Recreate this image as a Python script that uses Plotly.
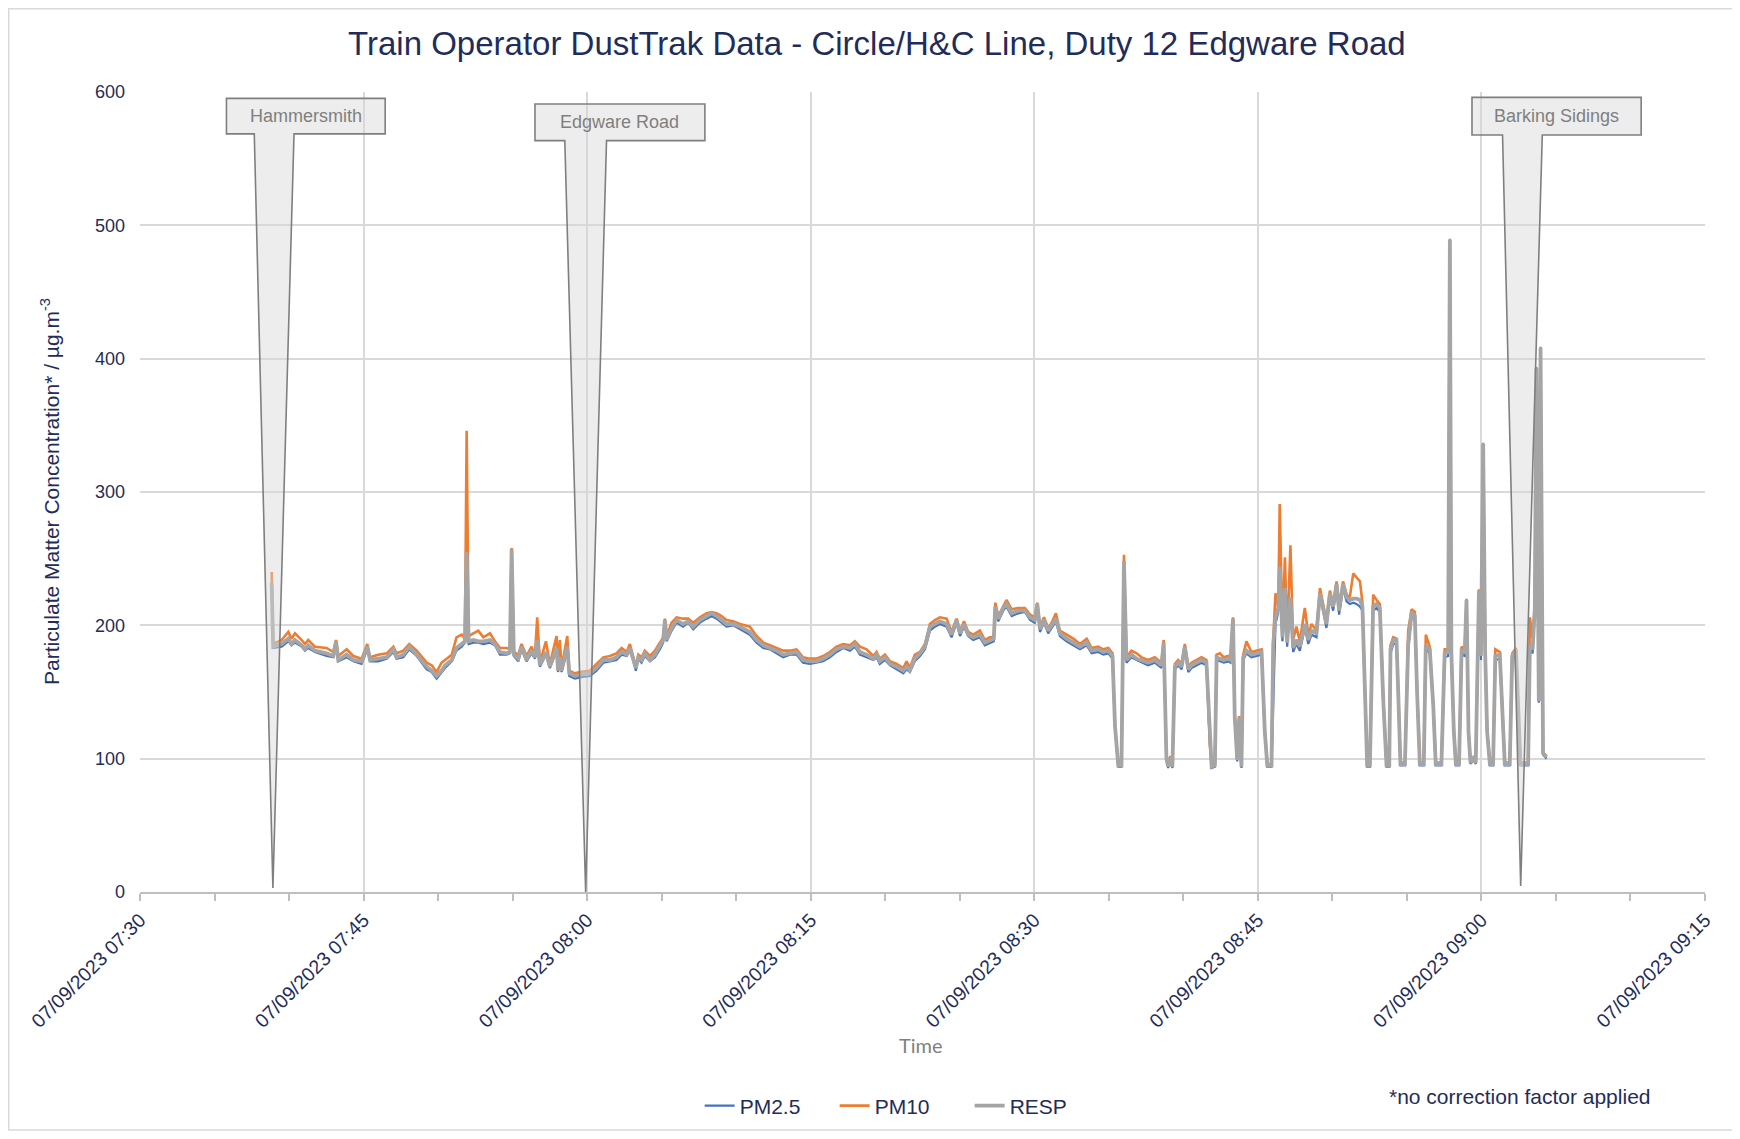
import plotly.graph_objects as go
import pandas as pd

DATE = "2023-09-07"

times = [
    "07:38:50", "07:38:56", "07:39:30", "07:39:57", "07:40:10", "07:40:24", "07:40:51", "07:41:04", "07:41:17", "07:41:44",
    "07:42:31", "07:42:58", "07:43:09", "07:43:18", "07:43:52", "07:44:19", "07:44:52", "07:45:15", "07:45:26", "07:45:59",
    "07:46:33", "07:47:00", "07:47:13", "07:47:40", "07:48:04", "07:48:34", "07:49:14", "07:49:34", "07:49:54", "07:50:14",
    "07:50:28", "07:50:55", "07:51:14", "07:51:35", "07:51:48", "07:51:55", "07:52:03", "07:52:22", "07:52:42", "07:53:02",
    "07:53:29", "07:53:49", "07:54:09", "07:54:36", "07:54:49", "07:54:56", "07:55:05", "07:55:23", "07:55:36", "07:55:56",
    "07:56:16", "07:56:30", "07:56:39", "07:56:50", "07:57:14", "07:57:30", "07:57:57", "07:58:03", "07:58:10", "07:58:17",
    "07:58:40", "07:58:48", "07:59:11", "07:59:31", "08:00:11",
    "08:00:38", "08:01:05", "08:01:32", "08:01:58", "08:02:19", "08:02:39", "08:02:52", "08:03:05", "08:03:16", "08:03:26",
    "08:03:39", "08:03:52", "08:04:13", "08:04:33", "08:04:53", "08:05:06", "08:05:13", "08:05:20", "08:05:40", "08:06:00",
    "08:06:26", "08:06:47", "08:07:07", "08:07:34", "08:08:01", "08:08:21", "08:08:41", "08:09:01", "08:09:21", "08:09:48",
    "08:10:15", "08:10:55", "08:11:22", "08:11:49", "08:12:16", "08:12:43", "08:13:09", "08:13:36", "08:14:03", "08:14:29",
    "08:14:56", "08:15:23", "08:15:50", "08:16:17", "08:16:44", "08:17:11", "08:17:38",
    "08:17:58", "08:18:18", "08:18:45", "08:19:12", "08:19:25", "08:19:38", "08:19:59", "08:20:19", "08:20:46", "08:21:13",
    "08:21:26", "08:21:39", "08:21:59", "08:22:20", "08:22:40", "08:23:00", "08:23:20", "08:23:40", "08:24:07", "08:24:27",
    "08:24:47", "08:25:01", "08:25:17", "08:25:34", "08:25:54", "08:26:21", "08:26:41", "08:27:01", "08:27:17", "08:27:23",
    "08:27:35", "08:27:55", "08:28:08", "08:28:29", "08:28:55", "08:29:22", "08:29:43", "08:30:02", "08:30:12", "08:30:23",
    "08:30:39", "08:30:56", "08:31:10", "08:31:27", "08:31:43", "08:32:10", "08:32:37", "08:33:04", "08:33:31", "08:33:51",
    "08:34:17", "08:34:38", "08:34:58", "08:35:15",
    "08:35:25", "08:35:38", "08:35:51", "08:36:01", "08:36:11", "08:36:31", "08:36:52", "08:37:12", "08:37:38", "08:38:05",
    "08:38:32", "08:38:41", "08:38:52", "08:38:59", "08:39:08", "08:39:16", "08:39:26", "08:39:39", "08:39:53", "08:40:06",
    "08:40:20", "08:40:33", "08:40:53", "08:41:13", "08:41:33", "08:41:47", "08:41:54", "08:42:07", "08:42:14", "08:42:27",
    "08:42:43", "08:43:01", "08:43:10", "08:43:20", "08:43:27", "08:43:37", "08:43:45", "08:43:54", "08:44:01", "08:44:14",
    "08:44:34", "08:44:55", "08:45:15", "08:45:28", "08:45:38", "08:45:55", "08:46:02", "08:46:11", "08:46:22", "08:46:28",
    "08:46:39", "08:46:49", "08:46:58", "08:47:11", "08:47:22", "08:47:35", "08:47:49", "08:48:09", "08:48:23", "08:48:36",
    "08:48:56", "08:49:10", "08:49:23", "08:49:36", "08:49:50", "08:50:03", "08:50:17", "08:50:27", "08:50:43", "08:50:57",
    "08:51:10", "08:51:24", "08:51:37", "08:51:51", "08:52:01", "08:52:11", "08:52:20", "08:52:31", "08:52:44", "08:52:58",
    "08:53:11", "08:53:25", "08:53:38", "08:53:49", "08:53:54", "08:54:05", "08:54:18", "08:54:25", "08:54:34", "08:54:52",
    "08:55:05", "08:55:19", "08:55:32", "08:55:41", "08:55:52", "08:56:08", "08:56:16", "08:56:32", "08:56:46", "08:56:56",
    "08:57:19", "08:57:32", "08:57:46", "08:57:53", "08:57:59", "08:58:09", "08:58:17", "08:58:30", "08:58:40", "08:58:53",
    "08:59:00", "08:59:08", "08:59:16", "08:59:27", "08:59:37", "08:59:50", "08:59:58", "09:00:07", "09:00:15", "09:00:23",
    "09:00:34", "09:00:47", "09:00:56", "09:01:14", "09:01:25", "09:01:34", "09:01:54", "09:02:04", "09:02:19", "09:02:28",
    "09:02:37", "09:03:08", "09:03:15", "09:03:26", "09:03:35", "09:03:41", "09:03:51", "09:03:58", "09:04:08", "09:04:22",
]

resp = [
    232, 184, 186, 190, 186, 189, 185, 182, 185, 181,
    179, 177, 188, 174, 178, 174, 173, 184, 174, 175,
    176, 182, 176, 178, 184, 178, 169, 166, 162, 166,
    170, 174, 183, 186, 188, 255, 188, 189, 188, 188,
    189, 186, 180, 179, 180, 257, 178, 175, 184, 174,
    181, 176, 189, 170, 180, 169, 183, 166, 176, 166,
    184, 164, 162, 163, 164,
    168, 174, 174, 176, 180, 178, 183, 175, 168, 176,
    174, 179, 174, 178, 184, 189, 204, 189, 198, 204,
    201, 203, 199, 204, 207, 209, 207, 204, 201, 201,
    199, 195, 189, 185, 183, 181, 178, 179, 180, 174,
    173, 173, 175, 178, 182, 184, 183,
    186, 180, 178, 175, 178, 173, 176, 171, 169, 166,
    169, 166, 175, 179, 184, 199, 201, 203, 201, 193,
    204, 194, 201, 193, 191, 193, 187, 189, 190, 214,
    205, 213, 216, 209, 211, 211, 206, 204, 216, 197,
    204, 196, 200, 205, 194, 190, 187, 184, 187, 181,
    182, 180, 181, 177,
    124, 95, 95, 248, 174, 178, 175, 174, 172, 174,
    170, 187, 100, 94, 101, 94, 169, 172, 169, 184,
    167, 170, 172, 174, 172, 110, 94, 95, 176, 175,
    174, 175, 174, 205, 131, 99, 131, 94, 176, 181,
    178, 179, 180, 120, 95, 95, 186, 206, 213, 244,
    191, 228, 187, 221, 183, 189, 184, 201, 189, 196,
    194, 224, 214, 201, 224, 214, 231, 211, 231, 221,
    219, 220, 220, 219, 214, 150, 95, 95, 214, 216,
    213, 143, 95, 95, 182, 189, 189, 150, 96, 96,
    185, 210, 207, 150, 96, 96, 185, 182, 140, 96,
    96, 179, 180, 489, 179, 120, 96, 96, 181, 180,
    219, 120, 97, 100, 97, 226, 177, 336, 180, 120,
    96, 96, 177, 178, 130, 96, 96, 177, 181, 130,
    96, 96, 185, 182, 213, 393, 143, 408, 104, 101,
]

pm10 = [
    240, 186, 189, 195, 190, 194, 189, 186, 189, 184,
    183, 180, 189, 177, 182, 177, 175, 186, 176, 178,
    179, 184, 179, 181, 186, 181, 172, 170, 165, 172,
    174, 178, 191, 193, 190, 346, 192, 194, 196, 191,
    194, 188, 183, 183, 182, 258, 180, 178, 186, 177,
    184, 178, 206, 172, 188, 171, 192, 168, 189, 168,
    192, 166, 164, 165, 166,
    171, 176, 177, 179, 183, 180, 186, 177, 169, 178,
    176, 181, 177, 181, 187, 191, 205, 192, 202, 206,
    205, 205, 202, 206, 209, 210, 209, 207, 204, 203,
    201, 199, 192, 187, 185, 183, 181, 181, 182, 176,
    175, 175, 177, 180, 184, 186, 185,
    188, 184, 182, 177, 180, 175, 178, 173, 171, 168,
    173, 168, 178, 180, 186, 201, 204, 206, 205, 195,
    205, 196, 203, 195, 193, 196, 189, 191, 191, 217,
    207, 215, 219, 212, 213, 213, 208, 206, 217, 199,
    206, 198, 202, 209, 196, 193, 190, 186, 190, 183,
    184, 182, 183, 179,
    125, 96, 96, 253, 176, 181, 179, 176, 174, 176,
    172, 189, 101, 95, 102, 95, 171, 174, 171, 186,
    169, 172, 174, 176, 174, 111, 95, 96, 178, 179,
    176, 177, 176, 206, 132, 100, 132, 95, 178, 188,
    180, 181, 182, 121, 96, 96, 190, 224, 214, 291,
    196, 251, 190, 260, 189, 199, 188, 213, 193, 201,
    196, 228, 216, 203, 226, 216, 233, 213, 233, 223,
    221, 239, 236, 233, 217, 151, 96, 96, 223, 219,
    216, 144, 96, 96, 185, 191, 190, 151, 97, 97,
    196, 212, 210, 151, 97, 97, 193, 184, 141, 97,
    97, 182, 182, 490, 181, 121, 97, 97, 184, 182,
    220, 121, 98, 101, 98, 227, 179, 337, 182, 121,
    97, 97, 182, 180, 131, 97, 97, 179, 183, 131,
    97, 97, 206, 190, 215, 394, 144, 409, 105, 102,
]

pm25 = [
    229, 183, 184, 188, 185, 187, 184, 181, 183, 180,
    177, 176, 186, 173, 176, 173, 171, 182, 173, 173,
    175, 180, 175, 176, 182, 177, 167, 165, 160, 165,
    168, 173, 181, 184, 187, 251, 186, 187, 187, 186,
    187, 185, 178, 178, 179, 254, 177, 173, 182, 173,
    179, 175, 187, 169, 178, 168, 181, 165, 174, 165,
    182, 162, 160, 161, 162,
    166, 172, 173, 174, 178, 177, 181, 174, 166, 175,
    172, 177, 173, 176, 182, 187, 202, 188, 196, 202,
    199, 202, 197, 202, 205, 207, 205, 202, 199, 200,
    197, 193, 187, 183, 182, 179, 176, 178, 178, 172,
    171, 172, 173, 176, 180, 183, 181,
    184, 178, 176, 174, 176, 171, 174, 170, 167, 164,
    167, 165, 173, 177, 182, 196, 199, 201, 199, 191,
    202, 192, 199, 192, 189, 191, 185, 187, 188, 211,
    203, 211, 214, 207, 209, 210, 204, 202, 214, 195,
    202, 194, 198, 203, 192, 188, 185, 182, 185, 179,
    180, 178, 179, 175,
    123, 94, 94, 245, 172, 176, 174, 172, 170, 172,
    168, 185, 99, 93, 100, 93, 167, 170, 167, 182,
    165, 168, 170, 172, 170, 109, 93, 94, 174, 173,
    172, 173, 172, 203, 130, 98, 130, 93, 174, 179,
    176, 177, 178, 119, 94, 94, 150, 201, 210, 239,
    188, 225, 184, 218, 180, 186, 181, 198, 186, 193,
    191, 221, 211, 198, 221, 211, 228, 208, 228, 218,
    216, 217, 216, 214, 211, 149, 94, 94, 211, 213,
    210, 142, 94, 94, 179, 186, 186, 149, 95, 95,
    182, 207, 204, 149, 95, 95, 182, 179, 139, 95,
    95, 176, 177, 485, 176, 119, 95, 95, 178, 177,
    216, 119, 96, 99, 96, 223, 174, 332, 177, 119,
    95, 95, 174, 175, 129, 95, 95, 174, 178, 129,
    95, 95, 182, 179, 210, 389, 142, 404, 103, 100,
]

series_names = ["PM2.5", "PM10", "RESP"]

# Location callouts: label, box (start, end, bottom, top), pointer base (start, end), tip (time, value)
callout_labels = ["Hammersmith", "Edgware Road", "Barking Sidings"]
callout_box_t = [("07:35:48", "07:46:27"), ("07:56:30", "08:07:54"), ("08:59:22", "09:10:43")]
callout_box_v = [(568.6, 595.2), (563.5, 591.0), (567.7, 596.0)]
callout_base_t = [("07:37:40", "07:40:20"), ("07:58:30", "08:01:18"), ("09:01:25", "09:04:05")]
callout_tip = [("07:38:55", 3.0), ("07:59:54", 0.0), ("09:02:38", 4.5)]

NAVY = "#1F2D5A"
GREY_TXT = "#7F7F7F"
colors = {"PM2.5": "#4472C4", "PM10": "#ED7D31", "RESP": "#A5A5A5"}
widths = {"PM2.5": 2.2, "PM10": 2.6, "RESP": 3.8}
FONT = "Liberation Sans Narrow, Arial Narrow, Liberation Sans, Arial, sans-serif"

x = [f"{DATE} {t}" for t in times]
data = {"PM2.5": pm25, "PM10": pm10, "RESP": resp}

fig = go.Figure()
for name in series_names:
    fig.add_trace(go.Scatter(
        x=x, y=data[name], mode="lines", name=name,
        line=dict(color=colors[name], width=widths[name]),
    ))


def ms(t):
    return pd.Timestamp(f"{DATE} {t}").value // 10**6


shapes = []
annotations = []
for lab, bt, bv, bs, tip in zip(callout_labels, callout_box_t, callout_box_v, callout_base_t, callout_tip):
    x0, x1 = ms(bt[0]), ms(bt[1])
    y0, y1 = bv
    b0, b1 = ms(bs[0]), ms(bs[1])
    tx, ty = ms(tip[0]), tip[1]
    path = (f"M{x0},{y1} L{x1},{y1} L{x1},{y0} L{b1},{y0} L{tx},{ty} "
            f"L{b0},{y0} L{x0},{y0} Z")
    shapes.append(dict(type="path", xref="x", yref="y", path=path,
                       fillcolor="rgba(214,214,214,0.45)",
                       line=dict(color="#7F7F7F", width=1.6), layer="above"))
    annotations.append(dict(
        x=(x0 + x1) / 2, y=(y0 + y1) / 2, xref="x", yref="y", text=lab, showarrow=False,
        font=dict(family=FONT, size=18, color=GREY_TXT), xanchor="center", yanchor="middle"))

# outer chart border
shapes.append(dict(type="rect", xref="paper", yref="paper",
                   x0=-0.0839, x1=1.03, y0=-0.2975, y1=1.104,
                   line=dict(color="#D9D9D9", width=1.5), fillcolor="rgba(0,0,0,0)", layer="below"))

annotations += [
    dict(text="Particulate Matter Concentration* / µg.m<sup>-3</sup>", textangle=-90,
         x=-0.0575, y=0.5, xref="paper", yref="paper", showarrow=False,
         font=dict(family=FONT, size=21, color=NAVY), xanchor="center", yanchor="middle"),
    dict(text="Time", x=0.499, y=-0.191, xref="paper", yref="paper", showarrow=False,
         font=dict(family="Lato, Open Sans, sans-serif", size=20, color=GREY_TXT),
         xanchor="center", yanchor="middle"),
    dict(text="*no correction factor applied", x=0.882, y=-0.256, xref="paper", yref="paper",
         showarrow=False, font=dict(family=FONT, size=21, color=NAVY),
         xanchor="center", yanchor="middle"),
]

fig.update_layout(
    width=1724, height=1123,
    margin=dict(l=132, r=27, t=84, b=239, autoexpand=False),
    paper_bgcolor="white", plot_bgcolor="white",
    font=dict(family=FONT, color=NAVY),
    title=dict(text="Train Operator DustTrak Data - Circle/H&C Line, Duty 12 Edgware Road",
               x=0.504, y=0.968, xanchor="center", yanchor="middle",
               font=dict(family=FONT, size=33, color=NAVY)),
    showlegend=True,
    legend=dict(orientation="h", x=0.487, y=0.0223, xref="paper", yref="container",
                xanchor="center", yanchor="middle", entrywidth=90, entrywidthmode="pixels",
                font=dict(family=FONT, size=21, color=NAVY), bgcolor="rgba(0,0,0,0)"),
    xaxis=dict(
        type="date",
        range=[f"{DATE} 07:30", f"{DATE} 09:15"],
        tick0=f"{DATE} 07:30", dtick=900000,
        tickformat="%d/%m/%Y %H:%M", tickangle=-45,
        tickfont=dict(family=FONT, size=19.5, color=NAVY),
        showgrid=True, gridcolor="#D9D9D9", gridwidth=1.5,
        showline=True, linecolor="#BFBFBF", linewidth=2,
        ticks="outside", ticklen=7, tickcolor="#BFBFBF", tickwidth=1.5,
        minor=dict(dtick=300000, ticks="outside", ticklen=7, tickcolor="#BFBFBF", tickwidth=1.5, showgrid=False),
        zeroline=False,
    ),
    yaxis=dict(
        range=[0, 600], dtick=100, tick0=0,
        tickfont=dict(family=FONT, size=18, color=NAVY),
        showgrid=True, gridcolor="#D9D9D9", gridwidth=1.5,
        zeroline=False, showline=False, ticks="", ticklabelstandoff=14,
    ),
    shapes=shapes, annotations=annotations,
)

fig.write_html("out.html")
